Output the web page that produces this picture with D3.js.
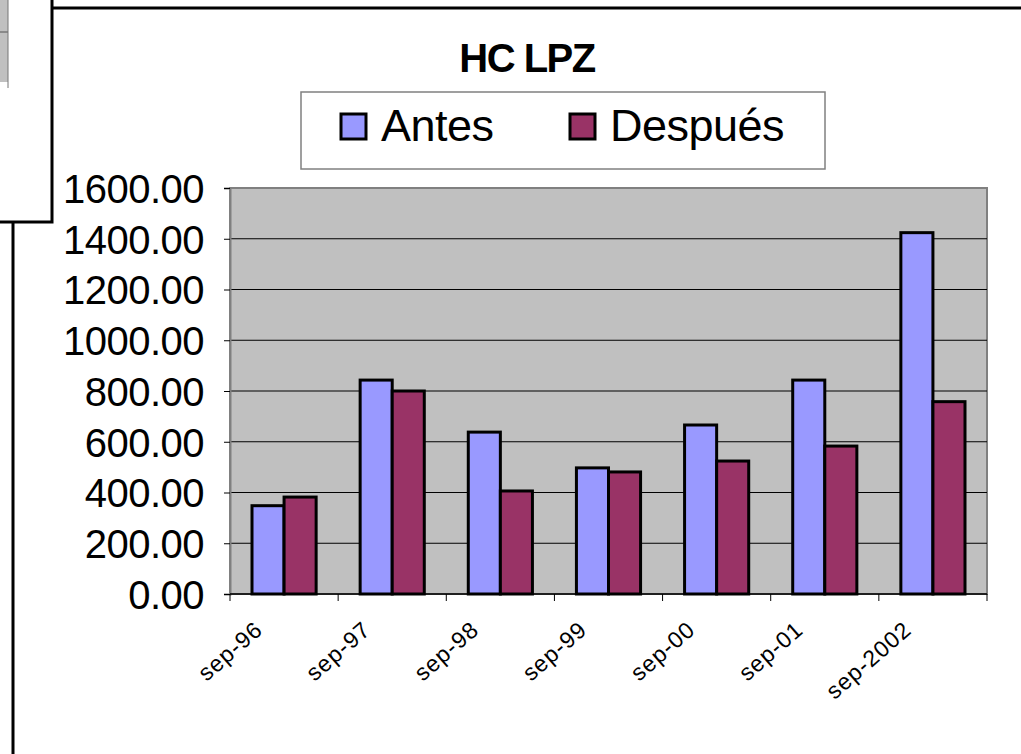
<!DOCTYPE html>
<meta charset="utf-8">
<script src="https://d3js.org/d3.v7.min.js"></script>
<style>
  body { margin: 0; background: #fff; }
  text { font-family: "Liberation Sans", Arial, sans-serif; }
</style>
<div id="chart"></div>
<script>
  // data
  const categories = ["sep-96", "sep-97", "sep-98", "sep-99", "sep-00", "sep-01", "sep-2002"];
  const antes = [348, 843, 638, 497, 666, 843, 1424];
  const despues = [382, 800, 406, 481, 524, 583, 758];
  const seriesNames = ["Antes", "Después"];
  const seriesColors = ["#9999ff", "#993366"];
  const yTicks = [0, 200, 400, 600, 800, 1000, 1200, 1400, 1600];

  const W = 1021, H = 754;
  const plot = {left: 230, right: 987, top: 188, bottom: 594};

  const svg = d3.select("#chart").append("svg")
    .attr("width", W).attr("height", H);

  // frame lines around the chart (spreadsheet chrome)
  svg.append("rect").attr("x", 0).attr("y", 0).attr("width", 8).attr("height", 82).attr("fill", "#c0c0c0");
  svg.append("line").attr("x1", 0).attr("x2", 8).attr("y1", 32).attr("y2", 32).attr("stroke", "#555");
  svg.append("line").attr("x1", 8).attr("x2", 8).attr("y1", 0).attr("y2", 88).attr("stroke", "#777");
  const frame = svg.append("g").attr("stroke", "#000").attr("stroke-width", 3).attr("fill", "none");
  frame.append("path").attr("d", "M52,8 H1021 M52,0 V222 H0 M13,222 V754");

  // scales
  const x0 = d3.scaleBand().domain(categories).range([plot.left, plot.right]).paddingInner(0).paddingOuter(0);
  const x1 = d3.scaleBand().domain(seriesNames).range([22, x0.bandwidth() - 22]);
  const y = d3.scaleLinear().domain([0, 1600]).range([plot.bottom, plot.top]);

  // plot area
  svg.append("rect")
    .attr("x", plot.left).attr("y", plot.top)
    .attr("width", plot.right - plot.left).attr("height", plot.bottom - plot.top)
    .attr("fill", "#c0c0c0").attr("stroke", "#808080").attr("stroke-width", 2);

  // gridlines
  svg.append("g").selectAll("line")
    .data(yTicks.slice(1, -1))
    .join("line")
      .attr("x1", plot.left).attr("x2", plot.right)
      .attr("y1", d => y(d)).attr("y2", d => y(d))
      .attr("stroke", "#000").attr("stroke-width", 1);

  // y axis
  const yAxis = svg.append("g")
    .attr("transform", `translate(${plot.left},0)`)
    .call(d3.axisLeft(y).tickValues(yTicks).tickFormat(d3.format(".2f")).tickSize(6).tickPadding(20));
  yAxis.select(".domain").attr("stroke", "#808080").attr("stroke-width", 2);
  yAxis.selectAll(".tick line").attr("stroke", "#000");
  yAxis.selectAll(".tick text")
    .attr("fill", "#000").style("font-size", "40px").attr("dy", "0.36em").attr("letter-spacing", "-0.5");

  // x axis
  const xAxis = svg.append("g")
    .attr("transform", `translate(0,${plot.bottom})`);
  xAxis.append("line")
    .attr("x1", plot.left).attr("x2", plot.right)
    .attr("stroke", "#000").attr("stroke-width", 1.5);
  xAxis.selectAll(".tk")
    .data(categories.map(c => x0(c)).concat([plot.right]))
    .join("line")
      .attr("x1", d => d).attr("x2", d => d)
      .attr("y1", 0).attr("y2", 7)
      .attr("stroke", "#000");
  xAxis.selectAll(".lbl")
    .data(categories)
    .join("text")
      .attr("transform", d => `translate(${x0(d) + x0.bandwidth() / 2 - 20},${38}) rotate(-41)`)
      .attr("text-anchor", "end")
      .attr("fill", "#000")
      .style("font-size", "23px")
      .attr("letter-spacing", "1")
      .text(d => d);

  // bars
  const data = categories.map((c, i) => ({cat: c, values: [antes[i], despues[i]]}));
  svg.append("g").selectAll("g")
    .data(data)
    .join("g")
      .attr("transform", d => `translate(${x0(d.cat)},0)`)
    .selectAll("rect")
    .data(d => d.values.map((v, j) => ({name: seriesNames[j], value: v, color: seriesColors[j]})))
    .join("rect")
      .attr("x", d => x1(d.name))
      .attr("y", d => y(d.value))
      .attr("width", x1.bandwidth())
      .attr("height", d => y(0) - y(d.value))
      .attr("fill", d => d.color)
      .attr("stroke", "#000").attr("stroke-width", 3);

  // title
  svg.append("text")
    .attr("x", 527).attr("y", 72)
    .attr("text-anchor", "middle")
    .style("font-size", "40px").style("font-weight", "bold")
    .attr("letter-spacing", "-1.5")
    .text("HC LPZ");

  // legend
  const legend = svg.append("g");
  legend.append("rect")
    .attr("x", 301).attr("y", 92).attr("width", 524).attr("height", 77)
    .attr("fill", "#fff").attr("stroke", "#808080").attr("stroke-width", 1.5);
  const legX = [341, 570];
  seriesNames.forEach((n, i) => {
    legend.append("rect")
      .attr("x", legX[i]).attr("y", 114).attr("width", 25).attr("height", 25)
      .attr("fill", seriesColors[i]).attr("stroke", "#000").attr("stroke-width", 3);
    legend.append("text")
      .attr("x", legX[i] + 40).attr("y", 141)
      .style("font-size", "45px").attr("letter-spacing", "-0.5")
      .text(n);
  });
</script>
